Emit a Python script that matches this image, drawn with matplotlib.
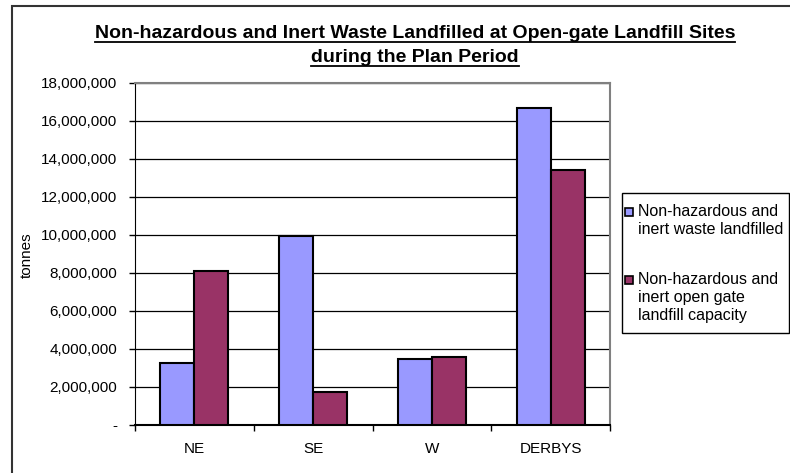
import numpy as np
import matplotlib.pyplot as plt
from matplotlib.patches import Rectangle
from matplotlib.ticker import FuncFormatter

plt.rcParams['font.family'] = ['Liberation Sans', 'DejaVu Sans']

# ------------------------------------------------------------
# Data
# ------------------------------------------------------------
areas = ["NE", "SE", "W", "DERBYS"]
landfilled = [3280000, 9950000, 3500000, 16700000]
capacity = [8100000, 1750000, 3600000, 13400000]
series_labels = ["Non-hazardous and\ninert waste landfilled",
                 "Non-hazardous and\ninert open gate\nlandfill capacity"]
series_colors = ['#9999ff', '#993366']
y_ticks = [0, 2000000, 4000000, 6000000, 8000000, 10000000,
           12000000, 14000000, 16000000, 18000000]

title_lines = ["Non-hazardous and Inert Waste Landfilled at Open-gate Landfill Sites",
               "during the Plan Period"]

W, H = 790, 473
fig = plt.figure(figsize=(7.9, 4.73), dpi=100)
ax = fig.add_axes([135 / W, 1 - 425 / H, 475 / W, 342 / H])

x = np.arange(len(areas))
w = 0.286
ax.bar(x - w / 2, landfilled, w, color=series_colors[0], edgecolor='black',
       linewidth=1.5, zorder=3)
ax.bar(x + w / 2, capacity, w, color=series_colors[1], edgecolor='black',
       linewidth=1.5, zorder=3)

ax.set_xlim(-0.5, 3.5)
ax.set_ylim(0, 18000000)
ax.set_yticks(y_ticks)
ax.yaxis.set_major_formatter(FuncFormatter(lambda v, p: '-' if v == 0 else f'{int(v):,}'))
ax.set_xticks(x)
ax.set_xticklabels(areas)
ax.set_xticks(np.arange(-0.5, 4, 1), minor=True)
ax.tick_params(axis='x', which='major', length=0, pad=12, labelsize=11)
ax.tick_params(axis='x', which='minor', length=4, width=1, direction='out')
ax.tick_params(axis='y', length=4, width=1, direction='out', labelsize=11, pad=9)

ax.grid(True, axis='y', color='black', linewidth=0.9, zorder=0)
ax.set_axisbelow(True)
for side in ['top', 'right']:
    ax.spines[side].set_color('#808080')
    ax.spines[side].set_linewidth(1.5)
ax.spines['left'].set_color('black')
ax.spines['bottom'].set_color('black')
ax.spines['bottom'].set_linewidth(1.5)

fig.text(27 / W, 1 - 255 / H, 'tonnes', rotation=90, ha='center', va='center',
         fontsize=11)

# title, underlined
t_objs = []
for line, yc in zip(title_lines, [33, 57]):
    t_objs.append(fig.text(415 / W, 1 - yc / H, line, ha='center', va='center',
                           fontsize=14, fontweight='bold'))
fig.canvas.draw()
r = fig.canvas.get_renderer()
for t, yu in zip(t_objs, [42, 66]):
    bb = t.get_window_extent(r)
    fig.add_artist(plt.Line2D([bb.x0 / W, bb.x1 / W], [1 - yu / H] * 2,
                              color='black', lw=1.3))

# legend box (handles sit on the first line of each entry)
fig.add_artist(Rectangle((622 / W, 1 - 333 / H), 167 / W, 140 / H,
                         transform=fig.transFigure, fill=False,
                         edgecolor='black', linewidth=1.0))
for label, col, yt in zip(series_labels, series_colors, [212, 280]):
    fig.add_artist(Rectangle((625 / W, 1 - (yt + 4) / H), 8 / W, 8 / H,
                             transform=fig.transFigure, facecolor=col,
                             edgecolor='black', linewidth=1.2))
    fig.text(638 / W, 1 - (yt - 8) / H, label, ha='left', va='top',
             fontsize=11.5, linespacing=1.25)

# outer chart border
fig.add_artist(Rectangle((12 / W, -0.05), 1.1, 1 - 6 / H + 0.05,
                         transform=fig.transFigure, fill=False,
                         edgecolor='#333333', linewidth=1.5))

fig.savefig('out.png', dpi=100)
